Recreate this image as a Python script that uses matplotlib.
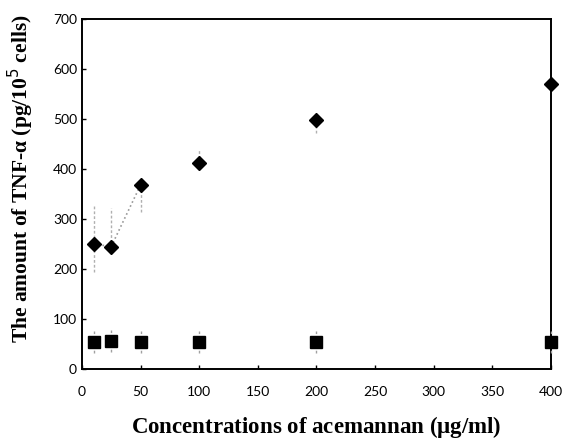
import numpy as np
import matplotlib.pyplot as plt

# TNF-alpha released by cells at each acemannan concentration
conc = [10, 25, 50, 100, 200, 400]
tnf_treated = [250, 245, 368, 413, 498, 570]
tnf_err_low = [55, 10, 53, 10, 26, 10]
tnf_err_high = [80, 78, 10, 27, 10, 10]
tnf_control = [55, 56, 55, 55, 55, 55]
control_err = [22, 22, 22, 22, 22, 22]

xticks = [0, 50, 100, 150, 200, 250, 300, 350, 400]
yticks = [0, 100, 200, 300, 400, 500, 600, 700]

fig = plt.figure(figsize=(5.65, 4.43), dpi=100)
ax = fig.add_axes([0.145, 0.167, 0.83, 0.79])

# faint dotted trend over the low concentrations
ax.plot(conc[:3], tnf_treated[:3], linestyle=":", color="#999999", linewidth=1.2)

eb1 = ax.errorbar(conc, tnf_treated, yerr=[tnf_err_low, tnf_err_high], fmt="D",
                  color="black", markersize=7, ecolor="#b0b0b0", elinewidth=1,
                  capsize=0, linestyle="none", clip_on=False, zorder=3)
eb2 = ax.errorbar(conc, tnf_control, yerr=control_err, fmt="s",
                  color="black", markersize=8, ecolor="#a0a0a0", elinewidth=1,
                  capsize=0, linestyle="none", clip_on=False, zorder=3)
for eb in (eb1, eb2):
    for lc in eb[2]:
        lc.set_linestyle((0, (2, 1.5)))

ax.set_xlim(0, 400)
ax.set_ylim(0, 700)
ax.set_xticks(xticks)
ax.set_yticks(yticks)
ax.tick_params(direction="in", length=3, width=1, labelsize=10)
ax.tick_params(axis="x", pad=12)
for lbl in ax.get_xticklabels() + ax.get_yticklabels():
    lbl.set_family("Lato")

for s in ax.spines.values():
    s.set_linewidth(1.4)

ax.set_xlabel(r"Concentrations of acemannan ($\mathregular{\mu}$g/ml)",
              fontsize=16.5, fontweight="bold", family="Liberation Serif", labelpad=12)
ax.set_ylabel(r"The amount of TNF-$\mathregular{\alpha}$ (pg/10$^5$ cells)",
              fontsize=15.5, fontweight="bold", family="Liberation Serif")
ax.yaxis.set_label_coords(-0.097, 0.545)

fig.savefig("out.png", dpi=100)
